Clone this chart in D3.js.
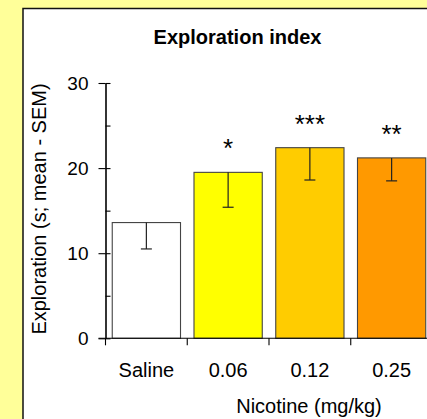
<!DOCTYPE html>
<html>
<head>
<meta charset="utf-8">
<script src="https://cdn.jsdelivr.net/npm/d3@7"></script>
<style>
  html, body { margin: 0; padding: 0; background: #ffff99; }
  svg { display: block; }
  text { font-family: "Liberation Sans", Arial, sans-serif; fill: #000; }
</style>
</head>
<body>
<script>
// values
const doses = ["Saline", "0.06", "0.12", "0.25"];
const means = [13.6, 19.5, 22.4, 21.2];
const sems = [3.1, 4.1, 3.8, 2.7];
const stars = ["", "*", "***", "**"];
const fills = ["#ffffff", "#ffff00", "#ffcc00", "#ff9900"];
const majorTicks = [0, 10, 20, 30];
const minorTicks = [0, 5, 10, 15, 20, 25, 30];

const W = 427, H = 419;

const svg = d3.select("body").append("svg")
    .attr("width", W)
    .attr("height", H);

svg.append("rect")//yellow backdrop
    .attr("width", W).attr("height", H)
    .attr("fill", "#ffff99");

svg.append("rect")//white panel
    .attr("x", 23).attr("y", 8.5)
    .attr("width", W).attr("height", H)
    .attr("fill", "#fff")
    .attr("stroke", "#111")
    .attr("stroke-width", 1.5);

const axisX = 105.5, axisY = 338.3;

let y = d3.scaleLinear()
    .domain([0, 30])
    .range([axisY, 83]);

let x = d3.scaleBand()
    .domain(doses)
    .range([axisX, 432.5])
    .paddingInner(0.165)
    .paddingOuter(0.0825);

// bars
svg.selectAll(".bar")
    .data(doses)
    .enter()
    .append("rect")
    .attr("class", "bar")
    .attr("x", d => x(d))
    .attr("y", (d, i) => y(means[i]))
    .attr("width", x.bandwidth())
    .attr("height", (d, i) => y(0) - y(means[i]))
    .attr("fill", (d, i) => fills[i])
    .attr("stroke", "#444")
    .attr("stroke-width", 1.1);

// error bars (mean - SEM)
const err = svg.selectAll(".err")
    .data(doses)
    .enter()
    .append("g")
    .attr("class", "err")
    .attr("stroke", "#222")
    .attr("stroke-width", 1.2);
err.append("line")
    .attr("x1", d => x(d) + x.bandwidth() / 2)
    .attr("x2", d => x(d) + x.bandwidth() / 2)
    .attr("y1", (d, i) => y(means[i]))
    .attr("y2", (d, i) => y(means[i] - sems[i]));
err.append("line")
    .attr("x1", d => x(d) + x.bandwidth() / 2 - 5.5)
    .attr("x2", d => x(d) + x.bandwidth() / 2 + 5.5)
    .attr("y1", (d, i) => y(means[i] - sems[i]))
    .attr("y2", (d, i) => y(means[i] - sems[i]));

// significance stars
svg.selectAll(".star")
    .data(doses)
    .enter()
    .append("text")
    .attr("class", "star")
    .attr("x", d => x(d) + x.bandwidth() / 2)
    .attr("y", (d, i) => y(means[i]) - 15)
    .attr("text-anchor", "middle")
    .style("font-size", "26px")
    .text((d, i) => stars[i]);

// y axis: major ticks cross the line, minor ones sit inside
let yMajor = svg.append("g")
    .attr("transform", "translate(" + axisX + ",0)")
    .call(d3.axisLeft(y).tickValues(majorTicks).tickSize(7).tickPadding(10).tickSizeOuter(0));
svg.append("g")
    .attr("transform", "translate(" + axisX + ",0)")
    .call(d3.axisRight(y).tickValues(minorTicks).tickSize(5).tickFormat("").tickSizeOuter(0));
yMajor.selectAll("text").style("font-size", "19px");
svg.selectAll(".domain, .tick line").attr("stroke", "#000").attr("stroke-width", 1.1);

// x axis
let xAxis = svg.append("g")
    .attr("transform", "translate(0," + axisY + ")")
    .call(d3.axisBottom(x).tickSize(0).tickPadding(25).tickSizeOuter(0));
xAxis.select(".domain").attr("stroke", "#000").attr("stroke-width", 1.1)
    .attr("d", "M" + (axisX - 7) + ",0H" + W);
xAxis.selectAll("text").style("font-size", "20px");

// category separators below the axis
svg.selectAll(".sep")
    .data(d3.range(doses.length + 1))
    .enter()
    .append("line")
    .attr("class", "sep")
    .attr("x1", i => x.range()[0] + i * x.step())
    .attr("x2", i => x.range()[0] + i * x.step())
    .attr("y1", axisY)
    .attr("y2", axisY + 7)
    .attr("stroke", "#000")
    .attr("stroke-width", 1.1);

// titles
svg.append("text")
    .attr("x", 237.5).attr("y", 44)
    .attr("text-anchor", "middle")
    .style("font-size", "20px")
    .style("font-weight", "bold")
    .text("Exploration index");

svg.append("text")
    .attr("x", 309).attr("y", 412.5)
    .attr("text-anchor", "middle")
    .style("font-size", "20px")
    .text("Nicotine (mg/kg)");

svg.append("text")
    .attr("transform", "translate(45.5,209) rotate(-90)")
    .attr("text-anchor", "middle")
    .style("font-size", "20px")
    .text("Exploration (s; mean - SEM)");
</script>
</body>
</html>
